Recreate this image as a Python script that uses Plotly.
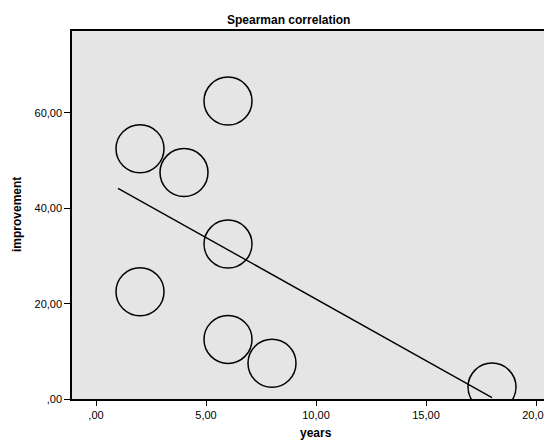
import numpy as np
import plotly.graph_objects as go

years = [2, 6, 4, 6, 2, 6, 8, 18]
improvement = [52.5, 62.5, 47.5, 32.5, 22.5, 12.5, 7.5, 2.5]
x_ticks = [0, 5, 10, 15, 20]
x_ticklabels = [",00", "5,00", "10,00", "15,00", "20,00"]
y_ticks = [0, 20, 40, 60]
y_ticklabels = [",00", "20,00", "40,00", "60,00"]
fit_start = 1

slope, intercept = np.polyfit(years, improvement, 1)
fit_x = np.array([fit_start, max(years)])
fit_y = slope * fit_x + intercept

FONT = "Liberation Sans, Arial, sans-serif"
OFF = 8  # page body margin
W, H = 552 - OFF, 441 - OFF
L, T, B = 72 - OFF, 31 - OFF, 441 - 399
PW, PH = W - L, H - T - B

fig = go.Figure()
fig.add_trace(go.Scatter(
    x=years, y=improvement, mode="markers",
    marker=dict(symbol="circle-open", size=48, color="black", line=dict(width=1.5, color="black")),
    showlegend=False, hoverinfo="skip",
))
fig.add_trace(go.Scatter(
    x=fit_x, y=fit_y, mode="lines",
    line=dict(color="black", width=1.4),
    showlegend=False, hoverinfo="skip",
))

fig.update_layout(
    width=W, height=H,
    margin=dict(l=L, r=0, t=T, b=B, autoexpand=False),
    paper_bgcolor="white",
    plot_bgcolor="#E5E5E5",
    font=dict(family=FONT, size=11, color="black"),
    xaxis=dict(
        range=[(72 - 96) / 22, (552 - 96) / 22],
        tickvals=x_ticks, ticktext=x_ticklabels,
        ticks="outside", ticklen=5, tickwidth=1, tickcolor="black",
        showline=True, linecolor="black", linewidth=1.5, mirror=True,
        showgrid=False, zeroline=False, automargin=False,
        tickfont=dict(family=FONT, size=11),
    ),
    yaxis=dict(
        range=[0, 77.2],
        tickvals=y_ticks, ticktext=y_ticklabels,
        ticks="outside", ticklen=6, tickwidth=1, tickcolor="black",
        showline=True, linecolor="black", linewidth=1.5,
        showgrid=False, zeroline=False, automargin=False,
        tickfont=dict(family=FONT, size=11),
    ),
    annotations=[
        dict(text="<b>Spearman correlation</b>", xref="paper", yref="paper",
             x=(288 - 72) / PW, y=1 + (31 - 20) / PH, xanchor="center", yanchor="middle",
             showarrow=False, font=dict(family=FONT, size=12, color="black")),
        dict(text="<b>years</b>", xref="x", yref="paper",
             x=10, y=-(433 - 399) / PH, xanchor="center", yanchor="middle",
             showarrow=False, font=dict(family=FONT, size=12, color="black")),
        dict(text="<b>improvement</b>", xref="paper", yref="paper",
             x=-(72 - 17) / PW, y=0.5, xanchor="center", yanchor="middle", textangle=-90,
             showarrow=False, font=dict(family=FONT, size=12, color="black")),
    ],
)

fig.write_html("out.html")
